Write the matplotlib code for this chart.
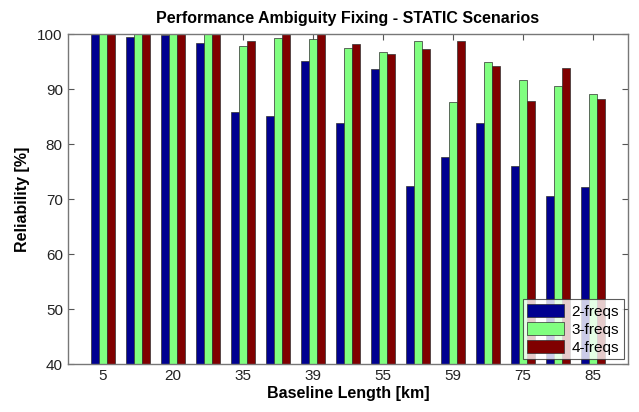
import matplotlib
matplotlib.use("Agg")
import matplotlib.pyplot as plt
import numpy as np

plt.rcParams['font.family'] = ['Liberation Sans', 'DejaVu Sans']

groups = np.arange(1, 16)
tick_positions = [1, 3, 5, 7, 9, 11, 13, 15]
tick_labels = ['5', '20', '35', '39', '55', '59', '75', '85']

freq2 = [100, 99.5, 99.8, 98.4, 85.9, 85.2, 95.2, 83.9, 93.6, 72.3, 77.6, 83.9, 76.0, 70.6, 72.2]
freq3 = [100, 100, 100, 100, 97.9, 99.3, 99.1, 97.4, 96.8, 98.7, 87.6, 95.0, 91.6, 90.5, 89.2]
freq4 = [100, 100, 100, 100, 98.8, 100, 100, 98.2, 96.4, 97.3, 98.7, 94.2, 87.8, 93.9, 88.2]

series = [("2-freqs", freq2, "#000090"), ("3-freqs", freq3, "#80FF80"), ("4-freqs", freq4, "#800000")]

fig = plt.figure(figsize=(6.39, 4.12), dpi=100)
ax = fig.add_axes([0.106, 0.1165, 0.877, 0.8005])

w = 0.23
for i, (lab, vals, col) in enumerate(series):
    ax.bar(groups + (i - 1) * w, vals, width=w, color=col, edgecolor='#303030',
           linewidth=0.5, label=lab, zorder=2)

ax.set_xlim(0, 16)
ax.set_ylim(40, 100)
ax.set_xticks(tick_positions)
ax.set_xticklabels(tick_labels)
ax.set_yticks([40, 50, 60, 70, 80, 90, 100])
ax.tick_params(direction='in', top=True, right=True, labelsize=11, length=4, color='#555555',
               labelcolor='#222222')
for s in ax.spines.values():
    s.set_color('#777777')
    s.set_linewidth(1.0)

ax.set_title('Performance Ambiguity Fixing - STATIC Scenarios', fontsize=11.5, fontweight='bold', pad=8)
ax.set_xlabel('Baseline Length [km]', fontsize=11.5, fontweight='bold', labelpad=2)
ax.set_ylabel('Reliability [%]', fontsize=11.5, fontweight='bold', labelpad=5)

leg = ax.legend(loc='lower right', fontsize=11, frameon=True, fancybox=False,
                edgecolor='#333333', borderaxespad=0.3, handlelength=2.4,
                handleheight=1.0, labelspacing=0.2, borderpad=0.3, handletextpad=0.5)
leg.get_frame().set_linewidth(0.8)

fig.savefig('out.png', dpi=100)
